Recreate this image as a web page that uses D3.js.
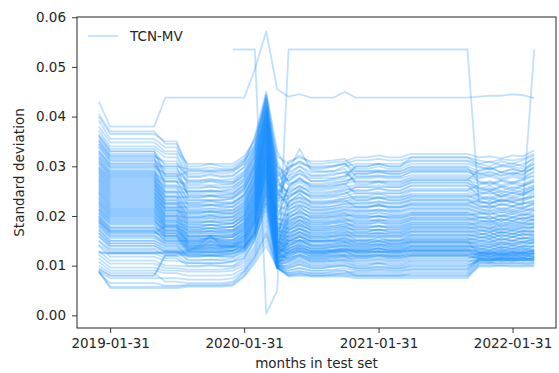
<!DOCTYPE html>
<html>
<head>
<meta charset="utf-8">
<script src="https://cdn.jsdelivr.net/npm/d3@7"></script>
<style>
  html, body { margin: 0; padding: 0; background: #fff; }
  svg { display: block; font-family: "DejaVu Sans", sans-serif; }
</style>
</head>
<body>
<svg id="chart" width="559" height="373"></svg>
<script>
// Month-end dates of the test set
const months = [
  "2018-12-31","2019-01-31","2019-02-28","2019-03-31","2019-04-30","2019-05-31",
  "2019-06-30","2019-07-31","2019-08-31","2019-09-30","2019-10-31","2019-11-30",
  "2019-12-31","2020-01-31","2020-02-29","2020-03-31","2020-04-30","2020-05-31",
  "2020-06-30","2020-07-31","2020-08-31","2020-09-30","2020-10-31","2020-11-30",
  "2020-12-31","2021-01-31","2021-02-28","2021-03-31","2021-04-30","2021-05-31",
  "2021-06-30","2021-07-31","2021-08-31","2021-09-30","2021-10-31","2021-11-30",
  "2021-12-31","2022-01-31","2022-02-28","2022-03-31"
];

const seriesName = "TCN-MV";
const xTickLabels = ["2019-01-31", "2020-01-31", "2021-01-31", "2022-01-31"];
const yTicks = [0, 0.01, 0.02, 0.03, 0.04, 0.05, 0.06];

// Values are stored in units of 1e-4
const UNIT = 1e-4;

// Standard deviation per asset, one row per asset, one column per month
const stdRows = [
  [430,380,380,380,380,380,438,438,438,438,438,438,438,438,495,572,455,440,445,438,438,438,450,438,438,438,438,438,438,438,438,438,438,438,440,442,442,445,443,437],
  [null,null,null,null,null,null,null,null,null,null,null,null,535,535,535,3,50,535,535,535,535,535,535,535,535,535,535,535,535,535,535,535,535,535,230,225,232,228,220,535],
  [405,370,370,370,370,370,345,345,300,300,305,300,300,315,355,440,320,305,322,305,305,308,310,318,318,322,318,318,325,325,325,325,325,325,318,320,316,322,320,332],
  [400,365,365,365,365,365,350,350,292,292,292,292,292,310,340,445,280,298,310,298,298,300,305,312,312,315,312,312,318,318,318,318,318,318,312,308,314,312,315,325],
  [392,355,355,355,355,355,338,338,285,285,290,285,288,305,360,450,330,290,335,292,290,290,300,305,305,305,305,305,312,312,312,312,312,312,305,310,302,306,300,318],
  [380,348,348,348,348,348,330,330,305,305,305,305,305,320,352,430,240,310,318,310,310,312,315,295,295,300,295,295,305,305,305,305,305,305,298,294,300,298,296,305],
  [372,340,340,340,340,340,325,325,278,278,282,278,280,298,335,420,300,282,300,282,282,285,288,290,290,292,290,290,300,300,300,300,300,300,290,296,288,294,290,312],
  [365,335,335,335,335,335,318,318,272,272,272,272,275,290,330,438,260,276,285,276,276,276,280,285,285,290,285,285,295,295,295,295,295,295,286,280,288,284,290,295],
  [362,330,330,330,330,330,300,300,295,295,298,295,295,312,345,425,220,300,306,300,300,302,306,280,280,280,280,280,288,288,288,288,288,288,282,288,280,286,282,300],
  [355,325,325,325,325,325,290,290,268,268,270,268,268,285,325,410,290,270,292,270,270,272,275,300,300,305,300,300,310,310,310,310,310,310,300,295,302,300,305,315],
  [350,320,320,320,320,320,310,310,262,262,262,262,265,282,320,442,310,265,270,265,265,268,270,275,275,278,275,275,282,282,282,282,282,282,275,280,272,278,275,288],
  [345,315,315,315,315,315,285,285,255,255,260,255,258,275,315,415,200,258,275,258,258,260,265,270,270,270,270,270,278,278,278,278,278,278,270,265,272,268,274,282],
  [340,310,310,310,310,310,280,280,250,250,250,250,252,270,308,405,250,252,260,252,252,255,258,262,262,268,262,262,272,272,272,272,272,272,265,270,262,268,264,275],
  [332,305,305,305,305,305,270,270,245,245,248,245,245,262,305,425,270,245,262,245,245,248,252,258,258,258,258,258,266,266,266,266,266,266,258,252,260,256,262,270],
  [328,300,300,300,300,300,300,300,240,240,240,240,242,258,300,398,180,240,250,240,240,242,245,252,252,256,252,252,260,260,260,260,260,260,255,260,250,258,254,262],
  [322,296,296,296,296,296,262,262,236,236,240,236,238,255,295,390,230,235,255,235,235,238,240,246,246,248,246,246,255,255,255,255,255,255,248,244,250,246,252,258],
  [318,292,292,292,292,292,255,255,232,232,232,232,235,250,300,418,300,230,238,230,230,232,236,240,240,245,240,240,250,250,250,250,250,250,242,248,238,246,242,255],
  [315,288,288,288,288,288,250,250,228,228,230,228,228,245,285,380,160,226,245,226,226,228,230,236,236,236,236,236,245,245,245,245,245,245,238,232,240,236,242,248],
  [310,284,284,284,284,284,245,245,224,224,224,224,226,240,288,402,210,222,230,222,222,225,228,232,232,238,232,232,240,240,240,240,240,240,234,240,230,238,234,245],
  [306,280,280,280,280,280,240,240,220,220,222,220,220,238,280,372,250,218,236,218,218,220,224,228,228,228,228,228,235,235,235,235,235,235,228,224,232,228,234,238],
  [300,276,276,276,276,276,236,236,215,215,215,215,218,232,280,395,280,214,222,214,214,216,220,225,225,230,225,225,232,232,232,232,232,232,225,230,222,228,224,232],
  [296,272,272,272,272,272,232,232,212,212,215,212,212,228,270,365,140,210,228,210,210,212,215,220,220,220,220,220,228,228,228,228,228,228,222,218,224,220,226,230],
  [292,268,268,268,268,268,228,228,208,208,208,208,210,225,272,388,175,206,214,206,206,208,212,216,216,222,216,216,224,224,224,224,224,224,218,222,214,220,216,228],
  [288,264,264,264,264,264,225,225,205,205,208,205,205,222,268,410,210,202,220,202,202,205,208,212,212,212,212,212,220,220,220,220,220,220,214,210,216,212,218,222],
  [285,260,260,260,260,260,222,222,202,202,202,202,205,218,265,360,140,198,206,198,198,200,204,208,208,214,208,208,216,216,216,216,216,216,210,214,206,212,208,218],
  [280,256,256,256,256,256,218,218,198,198,202,198,198,215,262,382,170,195,212,195,195,198,200,205,205,205,205,205,212,212,212,212,212,212,206,202,208,204,210,215],
  [276,252,252,252,252,252,215,215,195,195,195,195,198,212,258,350,130,192,200,192,192,195,198,202,202,208,202,202,208,208,208,208,208,208,202,206,198,204,200,210],
  [272,248,248,248,248,248,212,212,192,192,195,192,192,208,255,372,160,188,205,188,188,190,194,198,198,198,198,198,205,205,205,205,205,205,198,194,200,196,202,205],
  [268,244,244,244,244,244,210,210,188,188,188,188,190,205,250,398,195,185,192,185,185,188,190,195,195,200,195,195,202,202,202,202,202,202,195,198,190,196,192,200],
  [264,240,240,240,240,240,206,206,185,185,188,185,185,202,248,340,125,182,198,182,182,185,188,192,192,192,192,192,198,198,198,198,198,198,192,188,194,190,196,198],
  [260,236,236,236,236,236,202,202,182,182,182,182,185,198,245,362,155,178,186,178,178,180,184,188,188,194,188,188,195,195,195,195,195,195,188,192,184,190,186,195],
  [256,232,232,232,232,232,200,200,178,178,182,178,178,195,240,385,185,175,192,175,175,178,180,185,185,185,185,185,192,192,192,192,192,192,185,182,188,184,190,192],
  [252,228,228,228,228,228,196,196,175,175,175,175,178,192,238,330,120,172,180,172,172,175,178,182,182,188,182,182,188,188,188,188,188,188,182,186,178,184,180,188],
  [248,224,224,224,224,224,192,192,172,172,175,172,172,188,235,352,150,170,186,170,170,172,175,178,178,178,178,178,185,185,185,185,185,185,178,174,180,176,182,185],
  [245,220,220,220,220,220,190,190,170,170,170,170,172,185,232,375,175,166,174,166,166,168,172,175,175,180,175,175,182,182,182,182,182,182,175,178,170,176,172,180],
  [240,216,216,216,216,216,186,186,168,168,170,168,168,182,228,320,115,163,180,163,163,165,168,172,172,172,172,172,178,178,178,178,178,178,172,168,174,170,176,178],
  [236,212,212,212,212,212,182,182,165,165,165,165,168,180,225,342,145,160,168,160,160,162,165,168,168,174,168,168,175,175,175,175,175,175,168,172,165,170,166,172],
  [232,208,208,208,208,208,180,180,162,162,165,162,162,178,222,365,170,158,174,158,158,160,162,165,165,165,165,165,172,172,172,172,172,172,165,162,168,164,170,168],
  [228,204,204,204,204,204,178,178,160,160,160,160,162,175,218,310,110,155,162,155,155,158,160,162,162,168,162,162,168,168,168,168,168,168,162,166,158,164,160,165],
  [225,200,200,200,200,200,175,175,158,158,160,158,158,172,215,335,140,152,168,152,152,155,158,160,160,160,160,160,165,165,165,165,165,165,158,155,162,158,164,162],
  [220,196,196,196,196,196,172,172,155,155,155,155,158,170,212,355,165,150,158,150,150,152,155,156,156,162,156,156,162,162,162,162,162,162,156,160,152,158,154,158],
  [215,192,192,192,192,192,170,170,152,152,155,152,152,168,210,300,105,148,162,148,148,150,152,152,152,152,152,152,158,158,158,158,158,158,152,148,155,150,156,155],
  [212,190,190,190,190,190,168,168,150,150,150,150,152,165,205,325,135,145,152,145,145,148,150,150,150,156,150,150,155,155,155,155,155,155,150,154,146,152,148,152],
  [208,186,186,186,186,186,165,165,148,148,152,148,148,162,202,345,160,142,158,142,142,145,148,148,148,148,148,148,152,152,152,152,152,152,146,142,148,144,150,150],
  [205,182,182,182,182,182,162,162,145,145,145,145,148,160,198,300,125,140,148,140,140,142,145,145,145,150,145,145,150,150,150,150,150,150,144,148,140,146,142,148],
  [200,178,178,178,178,178,160,160,142,142,145,142,142,158,195,318,150,138,152,138,138,140,142,142,142,142,142,142,148,148,148,148,148,148,140,137,144,140,146,145],
  [198,175,175,175,175,175,158,158,140,140,140,140,142,155,192,285,100,135,142,135,135,138,140,140,140,145,140,140,145,145,145,145,145,145,138,142,135,140,136,142],
  [195,172,172,172,172,172,155,155,138,138,142,138,138,152,190,305,130,132,145,132,132,135,138,138,138,138,138,138,142,142,142,142,142,142,136,132,138,134,140,138],
  [192,170,170,170,170,170,152,152,136,136,136,136,138,150,188,325,150,130,138,130,130,132,135,135,135,140,135,135,140,140,140,140,140,140,134,138,130,136,132,135],
  [190,168,168,168,168,168,150,150,150,150,160,150,145,148,185,280,110,128,140,128,128,130,132,132,132,132,132,132,138,138,138,138,138,138,132,128,134,130,136,132],
  [188,165,165,165,165,165,180,180,145,145,158,145,140,145,182,295,135,125,134,125,125,128,130,130,130,135,130,130,135,135,135,135,135,135,128,132,125,130,127,130],
  [185,160,160,160,160,160,148,148,135,135,135,135,138,142,178,270,115,122,135,122,122,125,128,128,128,128,128,128,132,132,132,132,132,132,125,122,128,124,130,128],
  [180,155,155,155,155,155,145,145,132,132,135,132,132,140,175,290,140,120,128,120,120,122,125,125,125,130,125,125,130,130,130,130,130,130,124,128,120,126,122,125],
  [175,150,150,150,150,150,140,140,128,128,128,128,130,138,172,260,105,118,130,118,118,120,122,122,122,122,122,122,128,128,128,128,128,128,122,118,124,120,126,122],
  [170,145,145,145,145,145,135,135,125,125,128,125,125,135,168,275,125,115,122,115,115,118,120,120,120,125,120,120,125,125,125,125,125,125,120,124,116,122,118,120],
  [165,140,140,140,140,140,130,130,122,122,122,122,125,132,165,250,110,112,125,112,112,115,118,118,118,118,118,118,122,122,122,122,122,122,118,115,120,117,122,118],
  [160,135,135,135,135,135,128,128,118,118,120,118,118,128,160,265,130,110,118,110,110,112,115,115,115,120,115,115,120,120,120,120,120,120,115,118,112,116,113,115],
  [150,128,128,128,128,128,125,125,125,125,125,125,130,135,165,240,100,108,120,108,108,110,112,112,112,112,112,112,118,118,118,118,118,118,113,110,115,112,116,112],
  [125,125,125,125,125,125,125,125,130,140,160,140,138,138,170,255,120,150,150,150,150,150,150,145,145,145,145,145,148,148,148,148,148,148,125,125,125,125,125,125],
  [128,125,125,125,125,125,128,128,132,135,150,138,138,140,165,230,105,105,112,105,105,108,110,108,108,108,108,108,112,112,112,112,112,112,125,125,125,125,125,128],
  [140,118,118,118,118,118,110,110,105,105,105,105,108,115,150,225,100,100,108,100,100,102,105,100,100,104,100,100,105,105,105,105,105,105,120,118,122,118,120,118],
  [130,110,110,110,110,110,100,100,98,98,100,98,98,110,140,210,100,95,102,95,95,98,100,95,95,95,95,95,98,98,98,98,98,98,115,112,118,114,116,112],
  [122,104,104,104,104,104,95,95,92,92,92,92,95,105,135,200,100,90,95,90,90,92,95,90,90,92,90,90,92,92,92,92,92,92,110,110,112,110,110,108],
  [115,96,96,96,96,96,90,90,88,88,88,88,90,100,130,190,98,85,90,85,85,88,90,85,85,85,85,85,88,88,88,88,88,88,105,105,105,105,105,105],
  [108,90,90,90,90,90,85,85,80,80,80,80,82,95,125,180,97,80,85,80,80,82,85,82,82,82,82,82,82,82,82,82,82,82,102,102,102,102,102,100],
  [95,80,80,80,80,80,122,122,128,128,128,128,130,138,160,245,115,128,135,128,128,130,132,132,132,135,132,132,135,135,135,135,135,135,128,125,130,127,128,130],
  [92,80,80,80,80,80,120,120,122,122,122,122,125,130,155,215,105,125,130,125,125,128,130,128,128,128,128,128,130,130,130,130,130,130,122,122,122,122,122,125],
  [88,75,75,75,75,75,75,75,72,72,72,72,75,90,120,170,96,80,82,80,80,80,80,78,78,78,78,78,78,78,78,78,78,78,98,98,100,98,98,98],
  [85,65,65,65,65,65,60,60,62,62,62,62,65,85,115,160,95,78,80,78,78,78,78,75,75,75,75,75,75,75,75,75,75,75,100,100,100,100,100,102],
  [88,58,58,58,58,58,58,58,60,60,60,60,62,80,110,150,95,82,85,82,82,82,82,80,80,80,80,80,85,85,85,85,85,85,112,112,112,112,112,110],
  [90,55,55,55,55,55,55,55,58,58,58,58,60,78,105,140,95,85,88,85,85,85,85,88,88,88,88,88,92,92,92,92,92,92,115,115,115,115,115,115],
  [360,330,330,330,330,330,280,280,290,290,290,290,292,305,340,435,300,270,285,270,270,275,280,300,300,305,300,300,318,318,318,318,318,318,305,300,310,305,312,322],
  [352,322,322,322,322,322,305,305,280,280,285,280,282,298,335,428,270,288,300,288,288,290,295,265,265,270,265,265,272,272,272,272,272,272,292,298,288,295,290,305],
  [345,318,318,318,318,318,260,260,250,250,250,250,255,270,310,412,230,295,310,295,295,300,305,290,290,290,290,290,298,298,298,298,298,298,268,262,270,265,272,280],
  [338,312,312,312,312,312,295,295,270,270,275,270,270,288,330,400,285,262,278,262,262,265,270,278,278,282,278,278,290,290,290,290,290,290,278,284,275,282,278,290],
  [330,306,306,306,306,306,275,275,258,258,258,258,260,275,318,420,240,280,292,280,280,282,288,268,268,268,268,268,275,275,275,275,275,275,255,250,258,252,260,268],
  [325,302,302,302,302,302,268,268,265,265,270,265,265,280,322,395,215,255,268,255,255,258,262,285,285,288,285,285,292,292,292,292,292,292,285,290,282,288,284,298],
  [318,298,298,298,298,298,285,285,242,242,242,242,245,262,305,408,265,248,258,248,248,250,255,250,250,255,250,250,262,262,262,262,262,262,240,236,244,240,246,252],
  [312,290,290,290,290,290,248,248,248,248,252,248,248,265,300,385,190,260,275,260,260,262,265,245,245,245,245,245,252,252,252,252,252,252,262,268,258,265,260,272],
  [308,286,286,286,286,286,270,270,232,232,232,232,235,252,295,415,255,238,250,238,238,240,245,258,258,262,258,258,268,268,268,268,268,268,250,255,246,252,248,260],
  [304,282,282,282,282,282,238,238,238,238,242,238,238,255,290,378,170,228,245,228,228,230,235,238,238,238,238,238,242,242,242,242,242,242,230,226,234,230,236,240],
  [298,278,278,278,278,278,258,258,222,222,222,222,225,242,285,400,235,242,252,242,242,245,250,232,232,236,232,232,238,238,238,238,238,238,245,250,240,248,244,255],
  [294,274,274,274,274,274,226,226,226,226,230,226,226,242,282,370,160,218,230,218,218,220,225,225,225,225,225,225,232,232,232,232,232,232,220,216,224,220,226,225],
  [290,270,270,270,270,270,248,248,210,210,210,210,212,228,275,392,245,225,238,225,225,228,232,218,218,222,218,218,225,225,225,225,225,225,232,236,228,234,230,240],
  [286,266,266,266,266,266,218,218,218,218,222,218,218,235,272,360,150,205,218,205,205,208,212,210,210,210,210,210,215,215,215,215,215,215,208,204,212,208,214,212],
  [282,262,262,262,262,262,240,240,198,198,198,198,200,218,265,385,220,212,222,212,212,215,218,218,218,224,218,218,222,222,222,222,222,222,215,220,210,218,214,225],
  [278,258,258,258,258,258,210,210,206,206,210,206,206,222,262,350,140,196,210,196,196,198,202,200,200,200,200,200,206,206,206,206,206,206,198,194,202,198,204,200],
  [274,254,254,254,254,254,232,232,190,190,190,190,192,208,255,378,205,200,208,200,200,202,206,196,196,200,196,196,202,202,202,202,202,202,205,210,200,208,204,212],
  [270,250,250,250,250,250,200,200,196,196,200,196,196,212,252,340,130,186,200,186,186,188,192,190,190,190,190,190,196,196,196,196,196,196,190,186,194,190,196,192],
  [266,246,246,246,246,246,224,224,182,182,182,182,185,200,248,368,195,190,198,190,190,192,196,185,185,190,185,185,192,192,192,192,192,192,196,200,190,198,194,202],
  [262,242,242,242,242,242,194,194,186,186,190,186,186,202,245,332,125,178,192,178,178,180,184,180,180,180,180,180,186,186,186,186,186,186,180,176,184,180,186,182],
  [258,238,238,238,238,238,215,215,176,176,176,176,178,195,240,358,185,182,190,182,182,185,188,176,176,180,176,176,182,182,182,182,182,182,186,190,180,188,184,192],
  [254,234,234,234,234,234,188,188,178,178,182,178,178,195,238,325,120,170,184,170,170,172,176,172,172,172,172,172,178,178,178,178,178,178,172,168,176,172,178,175],
  [250,230,230,230,230,230,205,205,168,168,168,168,170,186,232,348,178,174,182,174,174,176,180,168,168,172,168,168,175,175,175,175,175,175,178,182,172,180,176,185],
  [246,226,226,226,226,226,182,182,172,172,176,172,172,188,230,318,115,162,176,162,162,165,168,165,165,165,165,165,170,170,170,170,170,170,165,160,168,164,170,168],
  [242,222,222,222,222,222,198,198,160,160,160,160,162,178,225,338,170,166,174,166,166,168,172,160,160,165,160,160,168,168,168,168,168,168,170,175,165,172,168,178],
  [238,218,218,218,218,218,176,176,165,165,170,165,165,182,222,312,112,155,168,155,155,158,162,158,158,158,158,158,162,162,162,162,162,162,158,154,162,158,164,160],
  [234,214,214,214,214,214,190,190,155,155,155,155,158,172,218,330,162,158,166,158,158,160,165,152,152,158,152,152,160,160,160,160,160,160,162,168,158,165,160,170],
  [230,210,210,210,210,210,170,170,158,158,162,158,158,175,215,305,108,148,160,148,148,150,155,150,150,150,150,150,155,155,155,155,155,155,150,146,154,150,156,152],
  [226,206,206,206,206,206,185,185,148,148,148,148,150,165,210,322,155,150,158,150,150,152,156,145,145,150,145,145,152,152,152,152,152,152,155,160,150,158,154,162],
  [222,202,202,202,202,202,165,165,152,152,155,152,152,168,208,298,105,140,152,140,140,142,146,142,142,142,142,142,148,148,148,148,148,148,142,138,146,142,148,145],
  [218,198,198,198,198,198,178,178,142,142,142,142,145,160,205,315,150,142,150,142,142,145,148,138,138,142,138,138,145,145,145,145,145,145,148,152,142,150,146,155],
  [214,194,194,194,194,194,160,160,145,145,148,145,145,160,200,290,102,135,146,135,135,138,142,135,135,135,135,135,140,140,140,140,140,140,135,130,138,134,140,138],
  [210,188,188,188,188,188,172,172,138,138,138,138,140,155,198,305,145,135,142,135,135,138,140,130,130,135,130,130,138,138,138,138,138,138,140,145,135,142,138,148],
  [205,184,184,184,184,184,155,155,140,140,142,140,140,155,195,285,100,128,140,128,128,130,135,128,128,128,128,128,132,132,132,132,132,132,128,124,132,128,134,130],
  [200,176,176,176,176,176,165,165,132,132,132,132,135,150,190,295,140,130,136,130,130,132,135,125,125,128,125,125,130,130,130,130,130,130,132,136,128,134,130,140],
  [195,170,170,170,170,170,150,150,135,135,138,135,135,150,188,278,98,122,132,122,122,125,128,120,120,120,120,120,125,125,125,125,125,125,120,118,124,120,126,122],
  [190,166,166,166,166,166,160,160,128,128,128,128,130,145,185,288,135,125,130,125,125,128,130,118,118,122,118,118,122,122,122,122,122,122,125,130,120,128,124,132],
  [185,162,162,162,162,162,145,145,130,130,132,130,130,145,180,270,96,118,128,118,118,120,122,115,115,115,115,115,120,120,120,120,120,120,115,112,118,115,120,118],
  [180,158,158,158,158,158,142,142,120,120,120,120,122,138,175,262,120,115,122,115,115,118,120,110,110,112,110,110,115,115,115,115,115,115,118,122,114,120,116,125],
  [172,150,150,150,150,150,138,138,118,118,120,118,118,135,170,255,95,112,120,112,112,115,118,105,105,105,105,105,110,110,110,110,110,110,110,108,114,110,115,112],
  [165,145,145,145,145,145,132,132,112,112,112,112,115,130,165,248,110,108,115,108,108,110,112,102,102,105,102,102,108,108,108,108,108,108,112,115,108,114,110,118],
  [158,140,140,140,140,140,128,128,110,110,112,110,110,125,160,240,95,102,110,102,102,105,108,98,98,98,98,98,102,102,102,102,102,102,108,106,110,108,112,110],
  [150,132,132,132,132,132,120,120,105,105,105,105,108,120,155,232,100,98,105,98,98,100,102,95,95,98,95,95,100,100,100,100,100,100,112,112,114,112,112,115],
  [142,125,125,125,125,125,115,115,100,100,102,100,100,115,150,225,95,95,102,95,95,98,100,92,92,92,92,92,95,95,95,95,95,95,110,110,110,110,110,112],
  [100,85,85,85,85,85,68,68,65,65,65,65,68,88,118,165,96,90,95,90,90,90,90,80,80,80,80,80,80,80,80,80,80,80,105,105,105,105,105,105]
];

const parseDate = d3.utcParse("%Y-%m-%d");
const fmtDate = d3.utcFormat("%Y-%m-%d");
const monthDates = months.map(parseDate);

const svg = d3.select("#chart");
const plot = { left: 77, right: 556, top: 17, bottom: 328 };
const lineColor = "#1e90ff";
const lineAlpha = 0.28;
const lineWidth = 1.8;
const textColor = "#262626";

// axis limits padded by 5% of the data range on each side
const xExtent = d3.extent(monthDates);
const xPad = (xExtent[1] - xExtent[0]) * 0.05;
const x = d3.scaleUtc()
  .domain([new Date(+xExtent[0] - xPad), new Date(+xExtent[1] + xPad)])
  .range([plot.left, plot.right]);

const allVals = stdRows.flat().filter(v => v != null).map(v => v * UNIT);
const yMin = d3.min(allVals), yMax = d3.max(allVals);
const yPad = (yMax - yMin) * 0.05;
const y = d3.scaleLinear()
  .domain([yMin - yPad, yMax + yPad])
  .range([plot.bottom, plot.top]);

// one translucent line per asset
const line = d3.line()
  .defined(d => d.v != null)
  .x(d => x(d.t))
  .y(d => y(d.v * UNIT));

const g = svg.append("g");
g.selectAll("path.series")
  .data(stdRows.map(row => row.slice(0, monthDates.length).map((v, i) => ({ t: monthDates[i], v }))))
  .join("path")
  .attr("class", "series")
  .attr("d", line)
  .attr("fill", "none")
  .attr("stroke", lineColor)
  .attr("stroke-opacity", lineAlpha)
  .attr("stroke-width", lineWidth)
  .attr("stroke-linejoin", "round");

// axes
const yAxis = d3.axisLeft(y)
  .tickValues(yTicks)
  .tickFormat(d3.format(".2f"))
  .tickSize(5)
  .tickPadding(6)
  .tickSizeOuter(0);
const xAxis = d3.axisBottom(x)
  .tickValues(xTickLabels.map(parseDate))
  .tickFormat(fmtDate)
  .tickSize(5)
  .tickPadding(5)
  .tickSizeOuter(0);

const ya = svg.append("g").attr("transform", `translate(${plot.left},0)`).call(yAxis);
const xa = svg.append("g").attr("transform", `translate(0,${plot.bottom})`).call(xAxis);
[ya, xa].forEach(a => {
  a.select(".domain").remove();
  a.selectAll(".tick line").attr("stroke", textColor).attr("stroke-width", 0.9);
  a.selectAll(".tick text")
    .attr("fill", textColor)
    .style("font-size", "13.5px")
    .style("font-family", "DejaVu Sans");
});

// frame
svg.append("rect")
  .attr("x", plot.left).attr("y", plot.top)
  .attr("width", plot.right - plot.left).attr("height", plot.bottom - plot.top)
  .attr("fill", "none").attr("stroke", textColor).attr("stroke-width", 1);

// axis titles
svg.append("text")
  .attr("x", (plot.left + plot.right) / 2).attr("y", 368)
  .attr("text-anchor", "middle")
  .attr("fill", textColor)
  .style("font-size", "13.5px")
  .text("months in test set");

svg.append("text")
  .attr("transform", `translate(24,${(plot.top + plot.bottom) / 2}) rotate(-90)`)
  .attr("text-anchor", "middle")
  .attr("fill", textColor)
  .style("font-size", "13.5px")
  .text("Standard deviation");

// legend
const lg = svg.append("g");
lg.append("line")
  .attr("x1", 88).attr("x2", 118).attr("y1", 36).attr("y2", 36)
  .attr("stroke", lineColor).attr("stroke-opacity", lineAlpha).attr("stroke-width", lineWidth);
lg.append("text")
  .attr("x", 130).attr("y", 41)
  .attr("fill", textColor)
  .style("font-size", "13.5px")
  .text(seriesName);
</script>
</body>
</html>
